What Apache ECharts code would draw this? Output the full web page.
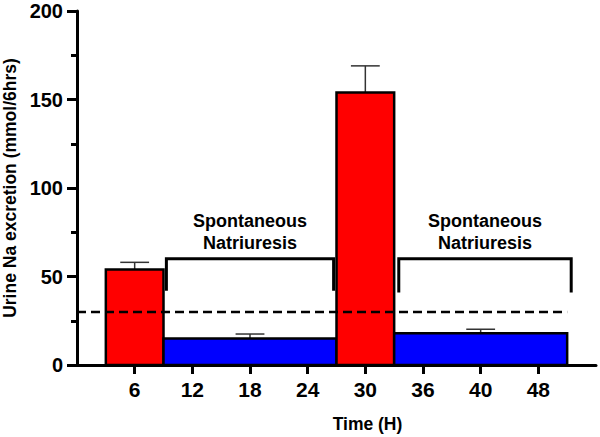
<!DOCTYPE html>
<html><head><meta charset="utf-8">
<script src="https://cdn.jsdelivr.net/npm/echarts@6/dist/echarts.min.js"></script>
<style>html,body{margin:0;padding:0;background:#fff}#c{width:600px;height:437px}</style>
</head><body><div id="c"></div>
<script>
// ---- data ----
const tickLabels = ['6', '12', '18', '24', '30', '36', '40', '48'];
const blockStart = [0.5, 1.5, 4.5, 5.5];
const blockEnd = [1.5, 4.5, 5.5, 8.5];
const blockMean = [54, 15, 154, 18];
const blockKind = ['induced', 'spontaneous', 'induced', 'spontaneous'];
const errX = [1, 3, 5, 7];
const errMean = [54, 15, 154, 18];
const errUpper = [58, 17.5, 169, 20.2];
const thresholdValue = 30;
const thresholdStart = 0;
const thresholdEnd = 8.5;
const bracketStart = [1.55, 5.58];
const bracketEnd = [4.45, 8.57];
const bracketTop = [60, 60];
const bracketBottom = [42, 41];
const bracketLabel = ['Spontaneous\nNatriuresis', 'Spontaneous\nNatriuresis'];
const yTicks = { min: 0, max: 200, interval: 50 };

// ---- style ----
const FONT = '"Liberation Sans", Arial, sans-serif';
const kindColor = { induced: '#ff0000', spontaneous: '#0000ff' };

const chart = echarts.init(document.getElementById('c'), null, { renderer: 'svg' });

const blockData = blockStart.map((s, i) => [s, blockEnd[i], blockMean[i], i]);
const errData = errX.map((x, i) => [x, errMean[i], errUpper[i]]);
const bracketData = bracketStart.map((s, i) => [s, bracketEnd[i], bracketTop[i], bracketBottom[i], i]);

chart.setOption({
  animation: false,
  backgroundColor: '#fff',
  grid: { left: 77, right: 4, top: 11, bottom: 72, containLabel: false, outerBoundsMode: 'none' },
  xAxis: [
    {
      type: 'category',
      data: [''].concat(tickLabels, ['']),
      boundaryGap: false,
      axisLine: { lineStyle: { color: '#000', width: 3 } },
      axisTick: { show: true, length: 9, interval: (i) => i > 0 && i < tickLabels.length + 1, lineStyle: { color: '#000', width: 3 } },
      axisLabel: { interval: 0, margin: 14, color: '#000', fontSize: 21, fontWeight: 'bold', fontFamily: FONT },
      splitLine: { show: false },
      name: 'Time (H)',
      nameLocation: 'middle',
      nameGap: 50,
      nameTextStyle: { color: '#000', fontSize: 17.5, fontWeight: 'bold', fontFamily: FONT, padding: [0, 0, 0, 62] }
    },
    { type: 'value', min: 0, max: tickLabels.length + 1, show: false }
  ],
  yAxis: {
    type: 'value',
    min: yTicks.min, max: yTicks.max, interval: yTicks.interval,
    axisLine: { show: true, lineStyle: { color: '#000', width: 3 } },
    axisTick: { show: true, length: 10, lineStyle: { color: '#000', width: 3 } },
    minorTick: { show: true, splitNumber: 2, length: 6, lineStyle: { color: '#000', width: 3 } },
    splitLine: { show: false },
    axisLabel: { margin: 14, color: '#000', fontSize: 20, fontWeight: 'bold', fontFamily: FONT },
    name: 'Urine Na excretion (mmol/6hrs)',
    nameLocation: 'middle',
    nameGap: 55,
    nameTextStyle: { color: '#000', fontSize: 17.5, fontWeight: 'bold', fontFamily: FONT }
  },
  series: [
    {
      type: 'custom', xAxisIndex: 1, yAxisIndex: 0, z: 2,
      data: blockData,
      encode: { x: [0, 1], y: 2 },
      renderItem: (params, api) => {
        const i = api.value(3);
        const p0 = api.coord([api.value(0), api.value(2)]);
        const p1 = api.coord([api.value(1), 0]);
        return {
          type: 'rect',
          shape: { x: p0[0], y: p0[1], width: p1[0] - p0[0], height: p1[1] - p0[1] },
          style: { fill: kindColor[blockKind[i]], stroke: '#000', lineWidth: 2.5 }
        };
      }
    },
    {
      type: 'custom', xAxisIndex: 1, yAxisIndex: 0, z: 1,
      data: errData,
      encode: { x: 0, y: [1, 2] },
      renderItem: (params, api) => {
        const x = api.value(0);
        const b = api.coord([x, api.value(1)]);
        const t = api.coord([x, api.value(2)]);
        const half = api.size([0.25, 0])[0];
        return {
          type: 'group',
          children: [
            { type: 'line', shape: { x1: b[0], y1: b[1], x2: t[0], y2: t[1] }, style: { stroke: '#333', lineWidth: 1.5 } },
            { type: 'line', shape: { x1: t[0] - half, y1: t[1], x2: t[0] + half, y2: t[1] }, style: { stroke: '#333', lineWidth: 1.5 } }
          ]
        };
      }
    },
    {
      type: 'line', xAxisIndex: 1, yAxisIndex: 0, z: 5,
      data: [[thresholdStart, thresholdValue], [thresholdEnd, thresholdValue]],
      symbol: 'none', silent: true,
      lineStyle: { color: '#000', width: 2.5, type: [9, 5] }
    },
    {
      type: 'custom', xAxisIndex: 1, yAxisIndex: 0, z: 6,
      data: bracketData,
      encode: { x: [0, 1], y: [2, 3] },
      renderItem: (params, api) => {
        const i = api.value(4);
        const a = api.coord([api.value(0), api.value(3)]);
        const b = api.coord([api.value(0), api.value(2)]);
        const c = api.coord([api.value(1), api.value(2)]);
        const d = api.coord([api.value(1), api.value(3)]);
        return {
          type: 'group',
          children: [
            { type: 'polyline', shape: { points: [a, b, c, d] }, style: { stroke: '#000', lineWidth: 3, fill: null } },
            { type: 'text', style: { text: bracketLabel[i], x: (b[0] + c[0]) / 2, y: b[1] - 5, align: 'center', verticalAlign: 'bottom', font: 'bold 18px ' + FONT, lineHeight: 22, fill: '#000' } }
          ]
        };
      }
    }
  ]
});
</script></body></html>
